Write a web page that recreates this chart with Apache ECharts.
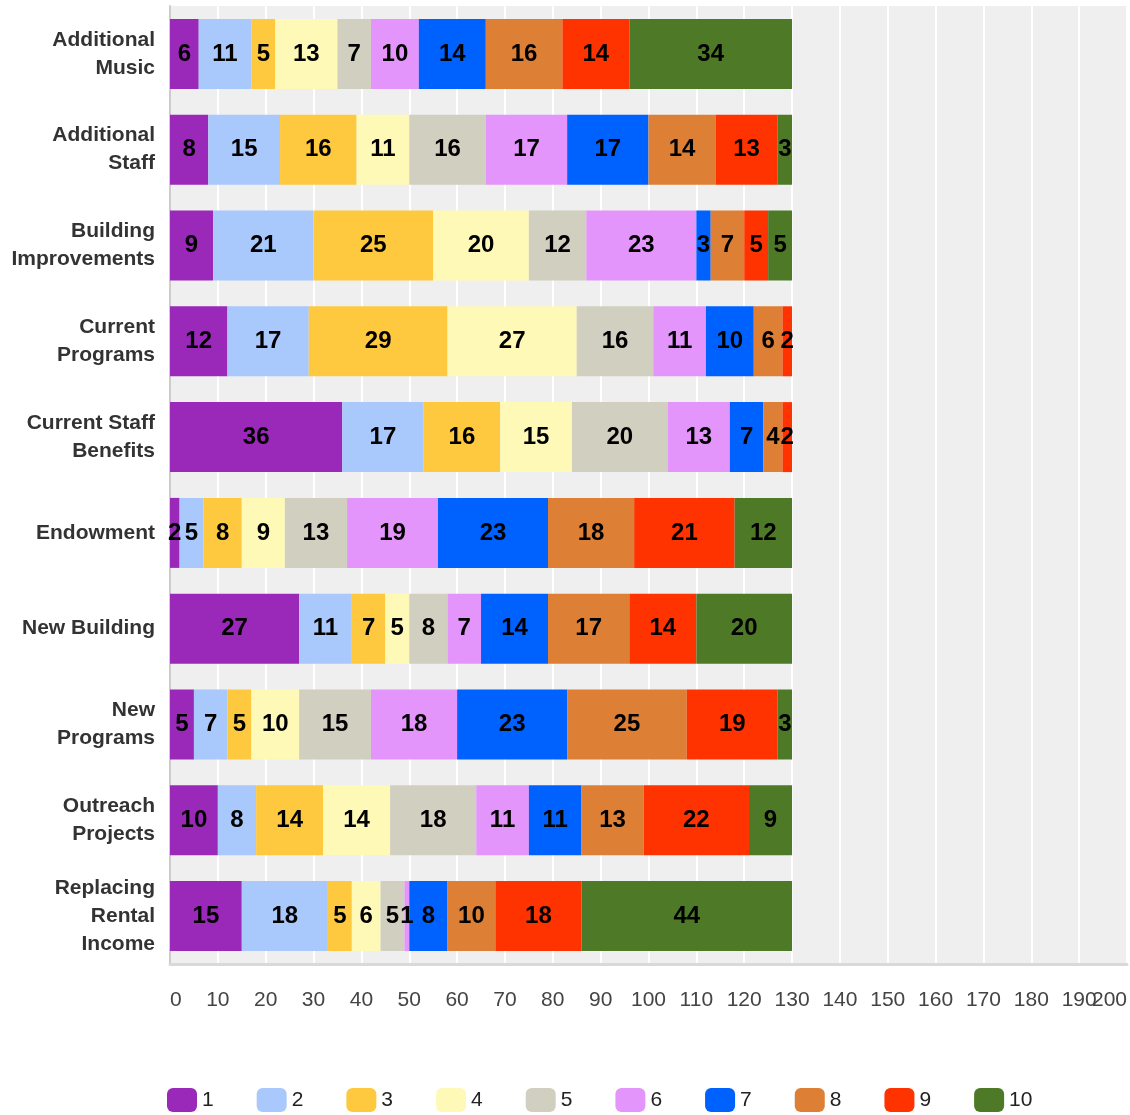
<!DOCTYPE html>
<html>
<head>
<meta charset="utf-8">
<script src="https://cdn.jsdelivr.net/npm/echarts@6/dist/echarts.min.js"></script>
<style>
html,body{margin:0;padding:0;background:#fff;}
#chart{width:1130px;height:1115px;}
</style>
</head>
<body>
<div id="chart"></div>
<script>
const categories = ["Additional\nMusic","Additional\nStaff","Building\nImprovements","Current\nPrograms","Current Staff\nBenefits","Endowment","New Building","New\nPrograms","Outreach\nProjects","Replacing\nRental\nIncome"];
const seriesNames = ["1","2","3","4","5","6","7","8","9","10"];
const s1  = [6, 8, 9, 12, 36, 2, 27, 5, 10, 15];
const s2  = [11, 15, 21, 17, 17, 5, 11, 7, 8, 18];
const s3  = [5, 16, 25, 29, 16, 8, 7, 5, 14, 5];
const s4  = [13, 11, 20, 27, 15, 9, 5, 10, 14, 6];
const s5  = [7, 16, 12, 16, 20, 13, 8, 15, 18, 5];
const s6  = [10, 17, 23, 11, 13, 19, 7, 18, 11, 1];
const s7  = [14, 17, 3, 10, 7, 23, 14, 23, 11, 8];
const s8  = [16, 14, 7, 6, 4, 18, 17, 25, 13, 10];
const s9  = [14, 13, 5, 2, 2, 21, 14, 19, 22, 18];
const s10 = [34, 3, 5, 0, 0, 12, 20, 3, 9, 44];
const seriesValues = [s1,s2,s3,s4,s5,s6,s7,s8,s9,s10];
const colors = ["#9a28b8","#a9c8fb","#fec93f","#fff9b8","#d1cfbf","#e495fb","#0062fe","#dd7f35","#ff3300","#4e7a28"];
const overlapTick = 190;

const chart = echarts.init(document.getElementById('chart'));
const font = "'Liberation Sans', Arial, sans-serif";
const tickLabel = {color: '#444', fontSize: 21, fontFamily: font, margin: 26, showMinLabel: true, showMaxLabel: true, hideOverlap: false};
chart.setOption({
  animation: false,
  grid: {left: 170, right: 2, top: 6, bottom: 151, show: true, backgroundColor: '#efefef', borderWidth: 0, containLabel: false},
  xAxis: [{
    type: 'value', min: 0, max: 200, interval: 10,
    axisLine: {show: true, lineStyle: {color: '#d9d9d9', width: 3}},
    axisTick: {show: false},
    splitLine: {show: true, lineStyle: {color: '#ffffff', width: 2}},
    axisLabel: Object.assign({}, tickLabel, {alignMinLabel: 'left', alignMaxLabel: 'right',
      formatter: v => v === overlapTick ? '' : String(v)})
  }, {
    type: 'value', min: 0, max: 200, interval: 10, position: 'bottom',
    axisLine: {show: false}, axisTick: {show: false}, splitLine: {show: false},
    axisLabel: Object.assign({}, tickLabel, {formatter: v => v === overlapTick ? String(v) : ''})
  }],
  yAxis: {
    type: 'category', data: categories, inverse: true,
    axisLine: {show: true, lineStyle: {color: '#cccccc', width: 2}},
    axisTick: {show: false},
    axisLabel: {color: '#333', fontSize: 21, fontWeight: 'bold', fontFamily: font, margin: 15, lineHeight: 28, align: 'right'}
  },
  legend: {
    left: 162, top: 1083, itemWidth: 30, itemHeight: 24, itemGap: 43,
    icon: 'roundRect',
    textStyle: {color: '#222', fontSize: 21, fontFamily: font},
    data: seriesNames
  },
  series: seriesNames.map((n, i) => ({
    name: n, type: 'bar', stack: 'total', barWidth: 70, xAxisIndex: 0,
    itemStyle: {color: colors[i]},
    label: {show: true, position: 'inside', color: '#000', fontSize: 24, fontWeight: 'bold', fontFamily: font,
      formatter: p => p.value === 0 ? '' : String(p.value)},
    data: seriesValues[i]
  }))
});
</script>
</body>
</html>
